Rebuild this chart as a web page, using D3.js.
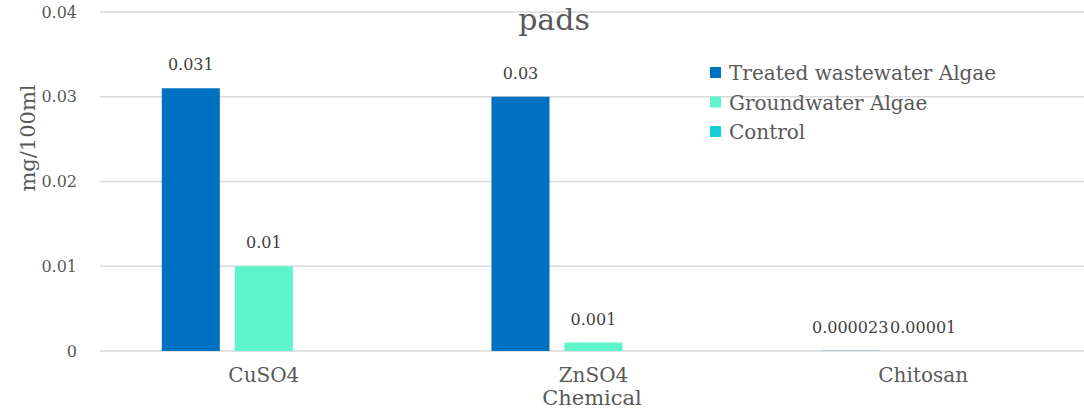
<!DOCTYPE html>
<html>
<head>
<meta charset="utf-8">
<script src="https://cdn.jsdelivr.net/npm/d3@7"></script>
<style>
  html, body { margin: 0; padding: 0; background: #fff; }
</style>
</head>
<body>
<svg id="chart" width="1084" height="412"></svg>
<script>
// Chemical treatments on the x axis
const categories = ["CuSO4", "ZnSO4", "Chitosan"];
// Series (mg/100ml); null = no value recorded
const seriesNames = ["Treated wastewater Algae", "Groundwater Algae", "Control"];
const treatedWastewater = [0.031, 0.03, 0.000023];
const groundwater = [0.01, 0.001, 0.00001];
const control = [null, null, null];
const seriesColors = ["#0070C0", "#5FF5CB", "#12D1DC"];
const yTicks = [0, 0.01, 0.02, 0.03, 0.04];

const seriesValues = [treatedWastewater, groundwater, control];
const FONT = '"DejaVu Serif", "Liberation Serif", serif';
const TEXT = "#595959";

const svg = d3.select("#chart").attr("font-family", FONT);
const W = 1084, H = 412;

const x = d3.scaleBand().domain(categories).range([99, 1088]).paddingInner(0).paddingOuter(0);
const xSeries = d3.scaleBand().domain(seriesNames).range([0, x.bandwidth()])
  .paddingInner(0.205).paddingOuter(0.86);
const y = d3.scaleLinear().domain([0, 0.04]).range([351, 12]);

// Gridlines
svg.append("g").selectAll("line").data(yTicks).join("line")
  .attr("x1", 100).attr("x2", W)
  .attr("y1", d => y(d)).attr("y2", d => y(d))
  .attr("stroke", "#d9d9d9").attr("stroke-width", 1.5);

// Y tick labels
const yAxis = d3.axisLeft(y).tickValues(yTicks).tickSize(0).tickPadding(0)
  .tickFormat(d => d === 0 ? "0" : d3.format(".2f")(d));
const gy = svg.append("g").attr("transform", "translate(77,0)").call(yAxis);
gy.attr("font-family", FONT);
gy.select(".domain").remove();
gy.selectAll("text").attr("font-size", 16).attr("fill", TEXT);

// X category labels
const xAxis = d3.axisBottom(x).tickSize(0).tickPadding(0);
const gx = svg.append("g").attr("transform", `translate(0,${y(0) + 17})`).call(xAxis);
gx.attr("font-family", FONT);
gx.select(".domain").remove();
gx.selectAll("text").attr("font-size", 20).attr("fill", TEXT);

// Bars + data labels
const fmt = d3.format("~g");
seriesNames.forEach((name, si) => {
  const vals = seriesValues[si];
  const g = svg.append("g");
  categories.forEach((cat, ci) => {
    const v = vals[ci];
    if (v === null) return;
    const bx = x(cat) + xSeries(name);
    g.append("rect")
      .attr("x", bx).attr("width", xSeries.bandwidth())
      .attr("y", y(v)).attr("height", y(0) - y(v))
      .attr("fill", seriesColors[si]);
    g.append("text")
      .attr("x", bx + xSeries.bandwidth() / 2).attr("y", y(v) - 18)
      .attr("text-anchor", "middle").attr("font-size", 16).attr("fill", "#404040")
      .text(fmt(v));
  });
});

// Title
svg.append("text").attr("x", 554).attr("y", 30).attr("text-anchor", "middle")
  .attr("font-size", 30).attr("fill", TEXT).text("pads");

// Axis titles
svg.append("text").attr("x", 592).attr("y", 405).attr("text-anchor", "middle")
  .attr("font-size", 21).attr("fill", TEXT).text("Chemical");
svg.append("text").attr("transform", `translate(35,138) rotate(-90)`).attr("text-anchor", "middle")
  .attr("font-size", 21).attr("fill", TEXT).text("mg/100ml");

// Legend
const legend = svg.append("g").attr("transform", "translate(710,62)");
seriesNames.forEach((name, i) => {
  const row = legend.append("g").attr("transform", `translate(0,${i * 29.5})`);
  row.append("rect").attr("x", 0).attr("y", 5).attr("width", 11).attr("height", 11).attr("fill", seriesColors[i]);
  row.append("text").attr("x", 19).attr("y", 18).attr("font-size", 20).attr("fill", TEXT).text(name);
});
</script>
</body>
</html>
